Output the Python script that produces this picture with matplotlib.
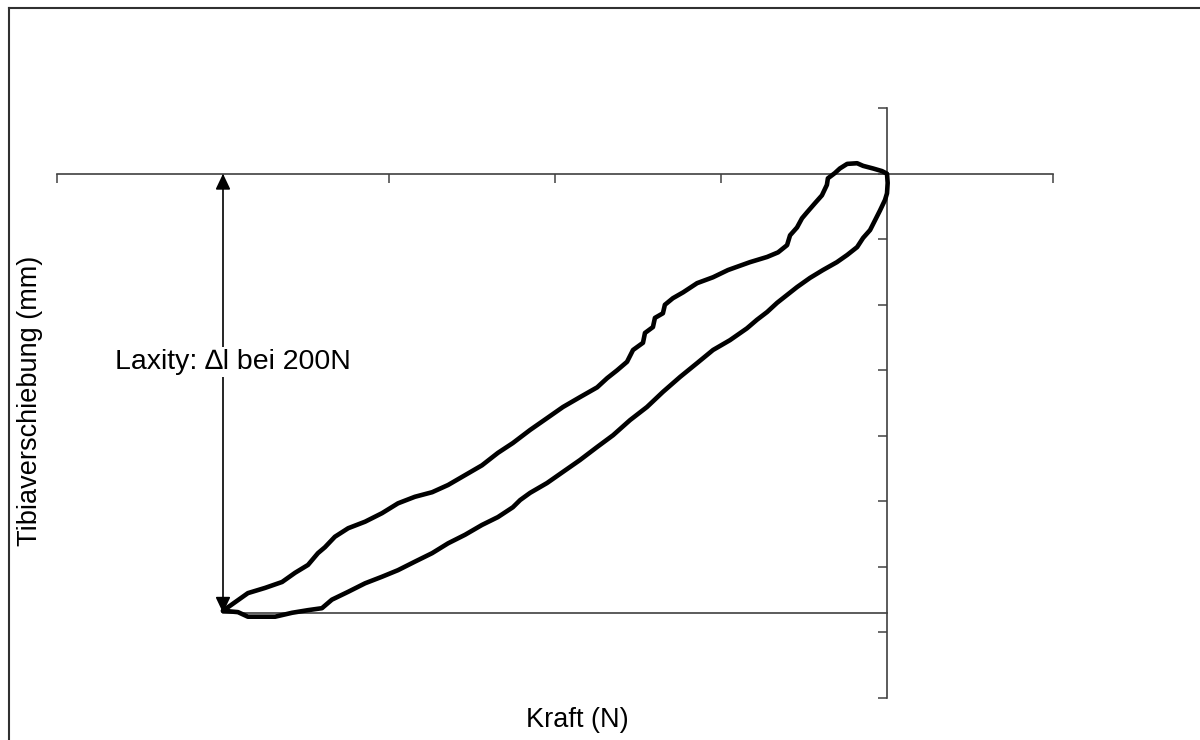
import matplotlib
matplotlib.use("Agg")
import matplotlib.pyplot as plt
from matplotlib.lines import Line2D

plt.rcParams['font.family'] = ['Liberation Sans', 'DejaVu Sans']

# Hysteresis loop: force (N) vs. tibial displacement (mm)
# loading branch, from -200 N up to 0 N
kraft_auf = [-200.0, -196.4, -192.5, -187.3, -182.2, -178.3, -174.4, -171.4, -169.3, -166.3,
             -162.3, -157.2, -152.1, -147.3, -142.2, -137.0, -132.2, -127.1, -122.0, -117.2,
             -112.7, -107.5, -102.4, -97.6, -92.5, -87.3, -84.3, -81.3, -78.3, -76.5,
             -73.5, -72.9, -70.5, -69.9, -67.5, -66.9, -64.5, -61.4, -57.2, -52.4,
             -47.9, -41.3, -36.1, -32.8, -30.1, -29.2, -27.1, -25.6, -24.1, -21.7,
             -19.6, -18.1, -17.8, -15.7, -14.2, -12.0, -9.0, -7.2, -4.2, -1.5, 0.0]
weg_auf = [-6.67, -6.54, -6.40, -6.32, -6.23, -6.09, -5.97, -5.79, -5.70, -5.54,
           -5.41, -5.31, -5.18, -5.03, -4.93, -4.86, -4.75, -4.60, -4.45, -4.26,
           -4.11, -3.91, -3.73, -3.56, -3.41, -3.26, -3.12, -3.00, -2.87, -2.69,
           -2.58, -2.43, -2.34, -2.20, -2.13, -2.00, -1.90, -1.81, -1.67, -1.58,
           -1.47, -1.35, -1.27, -1.20, -1.09, -0.94, -0.82, -0.68, -0.59, -0.45,
           -0.33, -0.17, -0.07, 0.01, 0.08, 0.15, 0.16, 0.12, 0.08, 0.04, 0.0]

# unloading branch, from 0 N back to -200 N
kraft_ab = [0.0, 0.2, 0.0, -0.6, -2.1, -3.6, -5.1, -7.2, -9.0, -12.0,
            -15.1, -19.3, -23.2, -27.1, -30.1, -33.1, -36.1, -39.2, -42.2, -47.3,
            -52.4, -57.2, -62.3, -67.5, -72.3, -77.4, -82.5, -87.3, -92.5, -97.6,
            -102.4, -107.5, -110.5, -112.7, -117.2, -122.0, -127.1, -132.2, -137.0, -142.2,
            -147.3, -152.1, -157.2, -162.3, -167.2, -170.2, -174.4, -179.2, -184.3, -189.5,
            -192.5, -195.5, -200.0]
weg_ab = [0.0, -0.14, -0.30, -0.40, -0.56, -0.71, -0.86, -0.98, -1.12, -1.24,
          -1.35, -1.47, -1.59, -1.73, -1.85, -1.97, -2.11, -2.23, -2.36, -2.54,
          -2.69, -2.89, -3.10, -3.33, -3.56, -3.76, -3.99, -4.17, -4.37, -4.55,
          -4.72, -4.87, -4.98, -5.09, -5.24, -5.36, -5.51, -5.64, -5.79, -5.92,
          -6.05, -6.15, -6.25, -6.38, -6.50, -6.63, -6.66, -6.70, -6.76, -6.76,
          -6.76, -6.69, -6.67]

x_ticks = [-250, -200, -150, -100, -50, 0, 50]
y_ticks = [1, 0, -1, -2, -3, -4, -5, -6, -7, -8]

laxity_kraft = -200
laxity_weg = -6.70

fig = plt.figure(figsize=(12, 7.4), dpi=100)
ax = fig.add_axes([0.0475, 0.0568, 0.83, 0.797])
ax.set_xlim(-250, 50)
ax.set_ylim(-8, 1)

# axes crossing at the origin, no tick labels
for side in ['top', 'right']:
    ax.spines[side].set_visible(False)
ax.spines['left'].set_position(('data', 0))
ax.spines['bottom'].set_position(('data', 0))
for side in ['left', 'bottom']:
    ax.spines[side].set_color('#404040')
    ax.spines[side].set_linewidth(1.2)
ax.set_xticks(x_ticks)
ax.set_yticks(y_ticks)
ax.tick_params(direction='out', length=6.5, width=1.2, color='#505050',
               labelbottom=False, labelleft=False)

# loop
ax.plot(kraft_auf + kraft_ab, weg_auf + weg_ab, color='black', linewidth=3.3,
        solid_joinstyle='round', solid_capstyle='round', zorder=4)

# reference line at maximum displacement
ax.plot([laxity_kraft, 0], [laxity_weg, laxity_weg], color='#404040', linewidth=1.2, zorder=2)

# laxity arrow
ax.annotate('', xy=(laxity_kraft, 0), xytext=(laxity_kraft, laxity_weg),
            arrowprops=dict(arrowstyle='<|-|>,head_length=0.95,head_width=0.45',
                            mutation_scale=10, color='black', linewidth=1.2,
                            shrinkA=0, shrinkB=0), zorder=3)
ax.text(-232.5, -2.87, 'Laxity: \u2206l bei 200N', fontsize=20.5, ha='left', va='center',
        bbox=dict(facecolor='white', edgecolor='none', pad=1.5), zorder=5)

# axis titles
fig.text(577 / 1200, 1 - 720 / 740, 'Kraft (N)', fontsize=19.5, ha='center', va='center')
fig.text(30 / 1200, 1 - 401 / 740, 'Tibiaverschiebung (mm)', fontsize=19.5,
         ha='center', va='center', rotation=90)

# chart frame
fig.add_artist(Line2D([9 / 1200, 9 / 1200], [0, 1 - 8 / 740], color='#303030', linewidth=1.5))
fig.add_artist(Line2D([9 / 1200, 1], [1 - 8 / 740, 1 - 8 / 740], color='#303030', linewidth=1.5))

fig.savefig('out.png', dpi=100, facecolor='white')
